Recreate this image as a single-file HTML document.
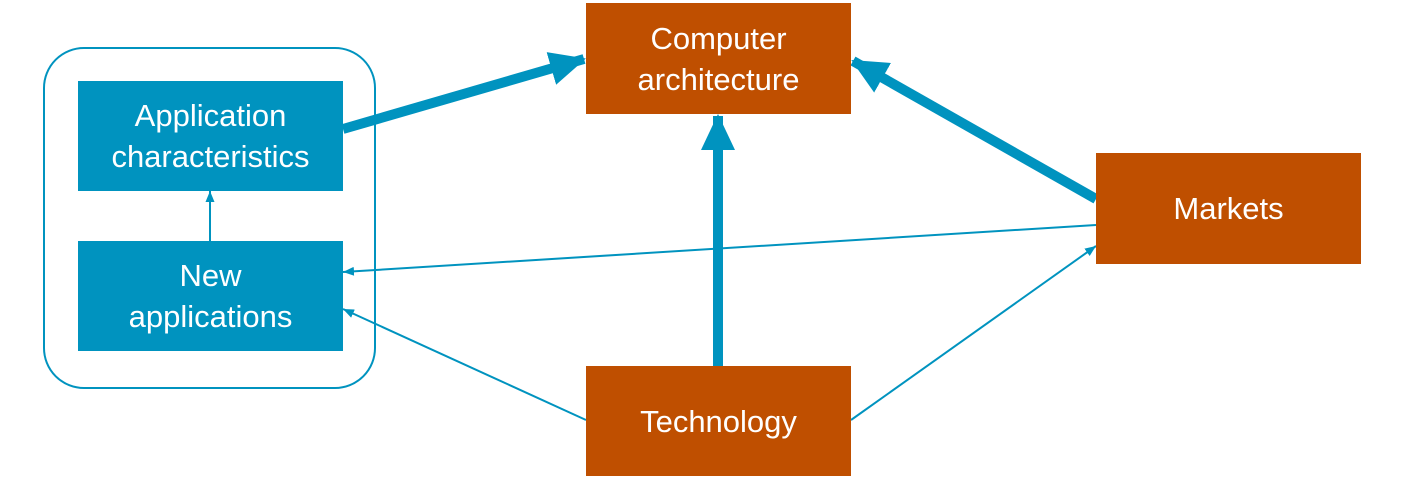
<!DOCTYPE html>
<html><head><style>
body{margin:0;width:1408px;height:490px;background:#fff;overflow:hidden;position:relative;font-family:"Liberation Sans",sans-serif}
.b{position:absolute;display:flex;align-items:center;justify-content:center;text-align:center;color:#fff;font-size:31px;line-height:41px}
.bl{background:#0093bf}.or{background:#bf4f00}
svg{position:absolute;left:0;top:0}
</style></head><body>
<svg width="1408" height="490">
<defs>
<marker id="big" markerWidth="36" markerHeight="36" refX="34" refY="17" orient="auto" markerUnits="userSpaceOnUse"><path d="M0,0 L36,17 L0,34 Z" fill="#0093bf"/></marker>
<marker id="sm" markerWidth="11" markerHeight="9" refX="11" refY="4.5" orient="auto" markerUnits="userSpaceOnUse"><path d="M0,0 L11,4.5 L0,9 Z" fill="#0093bf"/></marker>
</defs>
<rect x="44" y="48" width="331" height="340" rx="40" fill="none" stroke="#0093bf" stroke-width="2"/>
<g stroke="#0093bf" fill="none">
<line x1="343" y1="129" x2="584" y2="59" stroke-width="10" marker-end="url(#big)"/>
<line x1="718" y1="366" x2="718" y2="116" stroke-width="10" marker-end="url(#big)"/>
<line x1="1096" y1="199" x2="853" y2="61" stroke-width="10" marker-end="url(#big)"/>
<line x1="1096" y1="225" x2="343" y2="272" stroke-width="2" marker-end="url(#sm)"/>
<line x1="586" y1="420" x2="343" y2="309" stroke-width="2" marker-end="url(#sm)"/>
<line x1="851" y1="420" x2="1096" y2="246" stroke-width="2" marker-end="url(#sm)"/>
<line x1="210" y1="241" x2="210" y2="191" stroke-width="2" marker-end="url(#sm)"/>
</g>
</svg>
<div class="b bl" style="left:78px;top:81px;width:265px;height:110px">Application<br>characteristics</div>
<div class="b bl" style="left:78px;top:241px;width:265px;height:110px">New<br>applications</div>
<div class="b or" style="left:586px;top:3px;width:265px;height:111px">Computer<br>architecture</div>
<div class="b or" style="left:1096px;top:153px;width:265px;height:111px">Markets</div>
<div class="b or" style="left:586px;top:366px;width:265px;height:110px">Technology</div>
</body></html>
